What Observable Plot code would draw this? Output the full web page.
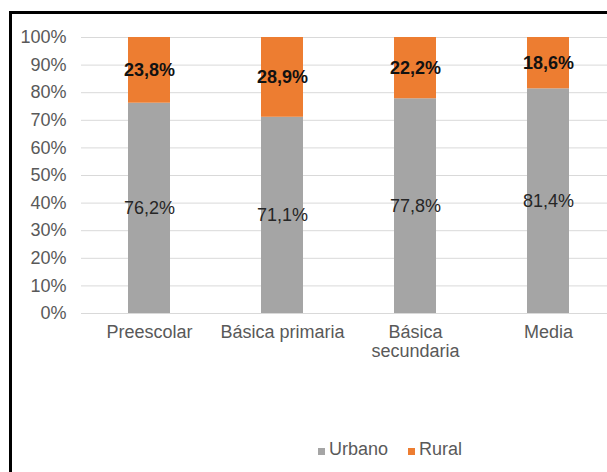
<!DOCTYPE html>
<html>
<head>
<meta charset="utf-8">
<script src="https://cdn.jsdelivr.net/npm/d3@7"></script>
<script src="https://cdn.jsdelivr.net/npm/@observablehq/plot@0.6"></script>
<style>
  html, body { margin: 0; padding: 0; background: #fff; width: 607px; height: 472px; overflow: hidden; font-family: "Liberation Sans", Arial, sans-serif; }
  #chart { position: absolute; left: 0; top: 0; }
  #frame { position: absolute; left: 9px; top: 11px; width: 700px; height: 600px; border-left: 3px solid #000; border-top: 3px solid #000; pointer-events: none; }
  #legend { position: absolute; top: 439px; left: 318px; font-size: 18px; color: #595959; display: flex; align-items: center; white-space: nowrap; }
  #legend span.sw { display: inline-block; width: 7px; height: 7px; margin-right: 4px; margin-top: 3px; }
  #legend span.item { display: inline-flex; align-items: center; margin-right: 20px; }
</style>
</head>
<body>
<div id="chart"></div>
<div id="frame"></div>
<div id="legend"></div>
<script>
const categories = ["Preescolar", "Básica primaria", "Básica secundaria", "Media"];
const series = ["Urbano", "Rural"];
const urbano = [76.2, 71.1, 77.8, 81.4];
const rural = [23.8, 28.9, 22.2, 18.6];
const colors = ["#A5A5A5", "#ED7D31"];
const yTicks = [0, 10, 20, 30, 40, 50, 60, 70, 80, 90, 100];
const xLabels = {"Preescolar": "Preescolar", "Básica primaria": "Básica primaria", "Básica secundaria": "Básica\nsecundaria", "Media": "Media"};

const data = [];
categories.forEach((c, i) => {
  data.push({cat: c, series: "Urbano", value: urbano[i]});
  data.push({cat: c, series: "Rural", value: rural[i]});
});
const fmt = v => v.toFixed(1).replace(".", ",") + "%";

const plot = Plot.plot({
  width: 607,
  height: 360,
  marginTop: 37,
  marginBottom: 47,
  marginLeft: 81,
  marginRight: 0,
  style: {fontFamily: "'Liberation Sans', Arial, sans-serif", fontSize: "18px", background: "transparent"},
  x: {domain: categories, range: [81, 616], paddingInner: 0.687, paddingOuter: 0.34, label: null},
  y: {domain: [0, 100], label: null},
  color: {domain: series, range: colors},
  marks: [
    Plot.ruleY(yTicks, {stroke: "#D9D9D9", strokeWidth: 1}),
    Plot.barY(data, {x: "cat", y: "value", fill: "series"}),
    Plot.text(data, Plot.stackY({x: "cat", y: "value", z: "series", text: d => d.series === "Urbano" ? fmt(d.value) : "", fill: "#262626", fontSize: 18})),
    Plot.text(data, Plot.stackY({x: "cat", y: "value", z: "series", text: d => d.series === "Rural" ? fmt(d.value) : "", fill: "#111", fontWeight: "bold", fontSize: 18})),
    Plot.axisY({ticks: yTicks, tickSize: 0, tickPadding: 15, tickFormat: d => d + "%", fill: "#595959", fontSize: 18, label: null}),
    Plot.axisX({tickSize: 0, tickPadding: 11, tickFormat: d => xLabels[d], fill: "#595959", fontSize: 18, lineHeight: 1.05, label: null})
  ]
});
document.getElementById("chart").appendChild(plot);

const legend = document.getElementById("legend");
series.forEach((s, i) => {
  const item = document.createElement("span");
  item.className = "item";
  const sw = document.createElement("span");
  sw.className = "sw";
  sw.style.background = colors[i];
  item.appendChild(sw);
  item.appendChild(document.createTextNode(s));
  legend.appendChild(item);
});
</script>
</body>
</html>
